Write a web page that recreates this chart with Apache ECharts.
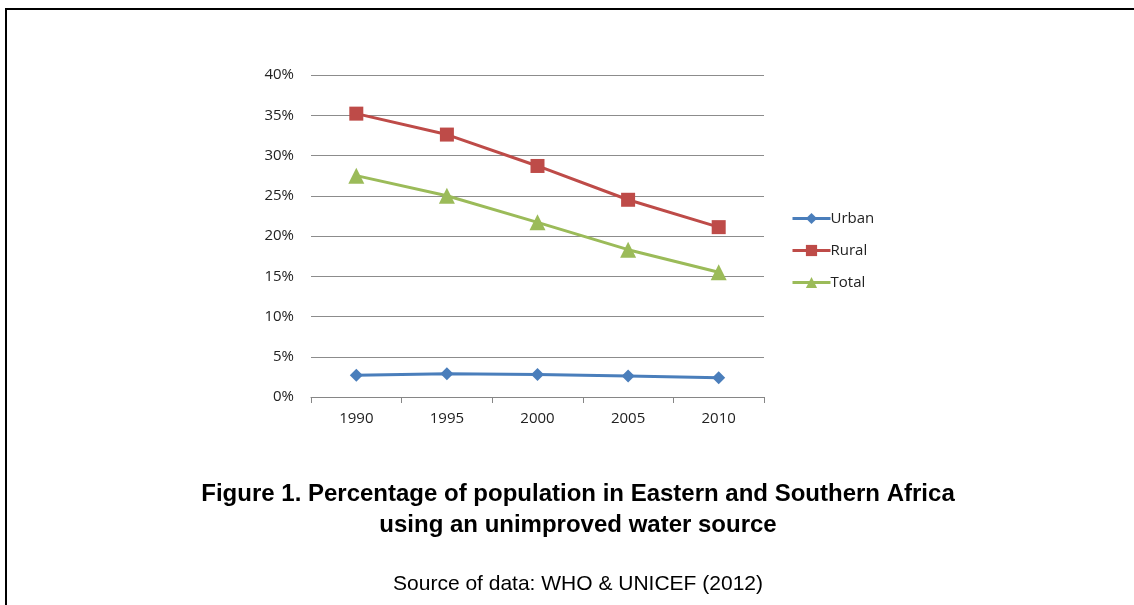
<!DOCTYPE html>
<html><head><meta charset="utf-8">
<script src="https://cdn.jsdelivr.net/npm/echarts@6/dist/echarts.min.js"></script>
<style>html,body{margin:0;padding:0;background:#fff}#c{width:1134px;height:605px}</style>
</head><body><div id="c"></div>
<script>
const years = ['1990','1995','2000','2005','2010'];
const urban = [2.7, 2.9, 2.8, 2.6, 2.4];
const rural = [35.2, 32.6, 28.7, 24.5, 21.1];
const total = [27.5, 25.0, 21.7, 18.3, 15.5];
const yTicks = [0,5,10,15,20,25,30,35,40];
const titleLines = ['Figure 1. Percentage of population in Eastern and Southern Africa','using an unimproved water source'];
const sourceText = 'Source of data: WHO & UNICEF (2012)';

const chart = echarts.init(document.getElementById('c'), null, {renderer:'canvas'});
const lbl = {fontFamily:'Open Sans, sans-serif', fontSize:15, color:'#222'};
function s(name, data, color, symbol, size){
  return {name, type:'line', data, symbol, symbolSize:size, showSymbol:true,
    lineStyle:{color, width:3}, itemStyle:{color}, animation:false};
}
chart.setOption({
  animation:false,
  title:[
    {text:titleLines.join('\n'), left:573, textAlign:'center', top:474,
     textStyle:{fontFamily:'Liberation Sans, Arial, sans-serif', fontSize:24, fontWeight:'bold', color:'#000', lineHeight:31}},
    {text:sourceText, left:573, textAlign:'center', top:569,
     textStyle:{fontFamily:'Liberation Sans, Arial, sans-serif', fontSize:21, fontWeight:'normal', color:'#000'}}
  ],
  grid:{left:311, right:370, top:75, bottom:208},
  legend:{orient:'vertical', left:786, top:206, itemGap:17, itemWidth:38, itemHeight:14,
    lineStyle:{width:3},
    textStyle:{fontFamily:'Open Sans, sans-serif', fontSize:15, color:'#222', padding:[0,0,0,-5]},
    data:['Urban','Rural','Total']},
  xAxis:{type:'category', data:years, boundaryGap:true,
    axisLine:{lineStyle:{color:'#868686', width:1}},
    axisTick:{show:true, length:6, lineStyle:{color:'#868686'}},
    axisLabel:Object.assign({margin:14}, lbl)},
  yAxis:{type:'value', min:0, max:40, interval:5,
    axisLine:{show:false}, axisTick:{show:false},
    axisLabel:Object.assign({margin:17, formatter:v=>v+'%'}, lbl),
    splitLine:{lineStyle:{color:'#8c8c8c', width:1}}},
  series:[
    s('Urban', urban, '#4A7EBB', 'diamond', 13),
    s('Rural', rural, '#BE4B48', 'rect', 14),
    s('Total', total, '#9BBB59', 'triangle', 16)
  ],
  graphic:[
    {type:'line', shape:{x1:5, y1:9, x2:1134, y2:9}, style:{stroke:'#000', lineWidth:2}},
    {type:'line', shape:{x1:6, y1:8, x2:6, y2:605}, style:{stroke:'#000', lineWidth:2}}
  ]
});
</script></body></html>
